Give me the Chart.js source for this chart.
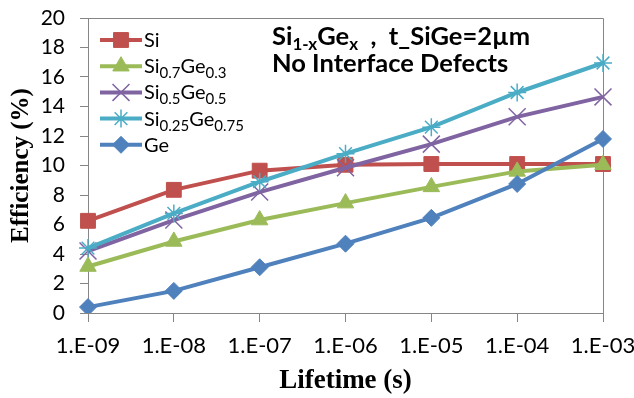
<!DOCTYPE html>
<html>
<head>
<meta charset="utf-8">
<script src="https://cdn.jsdelivr.net/npm/chart.js@4/dist/chart.umd.min.js"></script>
<style>
html,body{margin:0;padding:0;background:#fff;}
#wrap{width:634px;height:398px;}
</style>
</head>
<body>
<div id="wrap"><canvas id="c" width="634" height="398"></canvas></div>
<script>
// ---- data ----
const lifetimes = ['1.E-09','1.E-08','1.E-07','1.E-06','1.E-05','1.E-04','1.E-03'];
const effSi     = [6.25, 8.35, 9.65, 10.05, 10.1, 10.1, 10.1];
const effSi07   = [3.15, 4.85, 6.3, 7.45, 8.55, 9.6, 10.05];
const effSi05   = [4.2, 6.3, 8.2, 9.85, 11.45, 13.3, 14.65];
const effSi025  = [4.4, 6.75, 8.9, 10.8, 12.6, 14.95, 16.95];
const effGe     = [0.4, 1.5, 3.1, 4.7, 6.45, 8.75, 11.8];
const yTicks    = [0, 2, 4, 6, 8, 10, 12, 14, 16, 18, 20];
// legend labels as [text, isSubscript] runs
const legendNames = [
  [['Si',0]],
  [['Si',0],['0.7',1],['Ge',0],['0.3',1]],
  [['Si',0],['0.5',1],['Ge',0],['0.5',1]],
  [['Si',0],['0.25',1],['Ge',0],['0.75',1]],
  [['Ge',0]]
];
const noteLine1 = [['Si',0],['1-x',1],['Ge',0],['x',1],['  ,  t_SiGe=2µm',0]];
const noteLine2 = [['No Interface Defects',0]];

const C_RED='#C0504D', C_GREEN='#9BBB59', C_PURPLE='#8064A2', C_CYAN='#4BACC6', C_BLUE='#4F81BD';
const AXIS='#868686';

function ds(label, data, color, style, radius, bw, order){
  return {label, data, borderColor: color, backgroundColor: color, borderWidth: 4,
    pointStyle: style, pointRadius: radius, pointHoverRadius: radius,
    pointBackgroundColor: color, pointBorderColor: color, pointBorderWidth: bw,
    tension: 0, order};
}

function drawRuns(ctx, runs, x, y, mainFont, subFont, subShift){
  ctx.textBaseline = 'alphabetic';
  ctx.textAlign = 'left';
  for (const [t, sub] of runs){
    ctx.font = sub ? subFont : mainFont;
    ctx.fillText(t, x, sub ? y + subShift : y);
    x += ctx.measureText(t).width;
  }
  return x;
}

function marker(ctx, ds, x, y){
  const opts = {pointStyle: ds.pointStyle, radius: ds.pointRadius, rotation: 0, borderWidth: ds.pointBorderWidth};
  ctx.save();
  ctx.fillStyle = ds.pointBackgroundColor;
  ctx.strokeStyle = ds.pointBorderColor;
  ctx.lineWidth = ds.pointBorderWidth;
  if (Chart.helpers && Chart.helpers.drawPoint) {
    Chart.helpers.drawPoint(ctx, opts, x, y);
  }
  ctx.restore();
}

const framePlugin = {
  id: 'frame',
  beforeDatasetsDraw(chart){
    const {ctx, chartArea: a} = chart;
    ctx.save();
    ctx.strokeStyle = AXIS;
    ctx.lineWidth = 1;
    ctx.beginPath();
    ctx.moveTo(Math.round(a.left)+0.5, Math.round(a.top)+0.5);
    ctx.lineTo(Math.round(a.right)+0.5, Math.round(a.top)+0.5);
    ctx.lineTo(Math.round(a.right)+0.5, Math.round(a.bottom)+0.5);
    ctx.stroke();
    ctx.restore();
  }
};

const legendPlugin = {
  id: 'customLegend',
  afterDraw(chart){
    const ctx = chart.ctx;
    const dsets = chart.data.datasets;
    const x0 = 100, x1 = 142, y0 = 40, dy = 26.2;
    dsets.forEach((d, i) => {
      const y = y0 + i*dy;
      ctx.save();
      ctx.strokeStyle = d.borderColor;
      ctx.lineWidth = 4;
      ctx.beginPath(); ctx.moveTo(x0, y); ctx.lineTo(x1, y); ctx.stroke();
      ctx.restore();
      marker(ctx, d, (x0+x1)/2, y);
      ctx.save();
      ctx.fillStyle = '#000';
      drawRuns(ctx, legendNames[i], x1 + 2, y + 7, '20px Lato', '15px Lato', 5);
      ctx.restore();
    });
    ctx.save();
    ctx.fillStyle = '#000';
    drawRuns(ctx, noteLine1, 272, 45, 'bold 25.5px Lato', 'bold 17px Lato', 5);
    drawRuns(ctx, noteLine2, 272, 72, 'bold 25.5px Lato', 'bold 17px Lato', 5);
    ctx.restore();
  }
};

new Chart(document.getElementById('c'), {
  type: 'line',
  data: {
    labels: lifetimes,
    datasets: [
      ds('Si', effSi, C_RED, 'rect', 10.5, 1, 5),
      ds('Si0.7Ge0.3', effSi07, C_GREEN, 'triangle', 9.5, 1, 4),
      ds('Si0.5Ge0.5', effSi05, C_PURPLE, 'crossRot', 12, 1.5, 3),
      ds('Si0.25Ge0.75', effSi025, C_CYAN, 'star', 9, 1.5, 2),
      ds('Ge', effGe, C_BLUE, 'rectRot', 8.5, 1, 1)
    ]
  },
  options: {
    responsive: false,
    animation: false,
    devicePixelRatio: 1,
    layout: { padding: { top: 18, right: 31, left: 0, bottom: 0 } },
    plugins: { legend: { display: false }, tooltip: { enabled: false } },
    scales: {
      x: {
        type: 'category',
        offset: false,
        grid: { display: true, drawOnChartArea: false, drawTicks: true, tickLength: 9, color: AXIS },
        border: { display: true, color: AXIS, width: 1 },
        ticks: { color: '#000', font: { family: 'Lato', size: 22 }, padding: 11, maxRotation: 0, autoSkip: false },
        title: { display: true, text: 'Lifetime (s)', color: '#000',
          font: { family: 'Liberation Serif', size: 27, weight: 'bold' }, padding: { top: 0, bottom: 1 } },
        afterFit(s){ s.height = 398 - 313; s.paddingLeft = 0; s.paddingRight = 0; }
      },
      y: {
        min: 0, max: 20,
        afterBuildTicks(s){ s.ticks = yTicks.map(v => ({value: v})); },
        grid: { display: true, drawOnChartArea: false, drawTicks: true, tickLength: 8, color: AXIS },
        border: { display: true, color: AXIS, width: 1 },
        ticks: { color: '#000', font: { family: 'Lato', size: 21 }, padding: 15 },
        title: { display: true, text: 'Efficiency (%)', color: '#000',
          font: { family: 'Liberation Serif', size: 25, weight: 'bold' }, padding: { top: 7, bottom: 0 } },
        afterFit(s){ s.width = 88; s.paddingTop = 0; s.paddingBottom = 0; }
      }
    }
  },
  plugins: [framePlugin, legendPlugin]
});
</script>
</body>
</html>
